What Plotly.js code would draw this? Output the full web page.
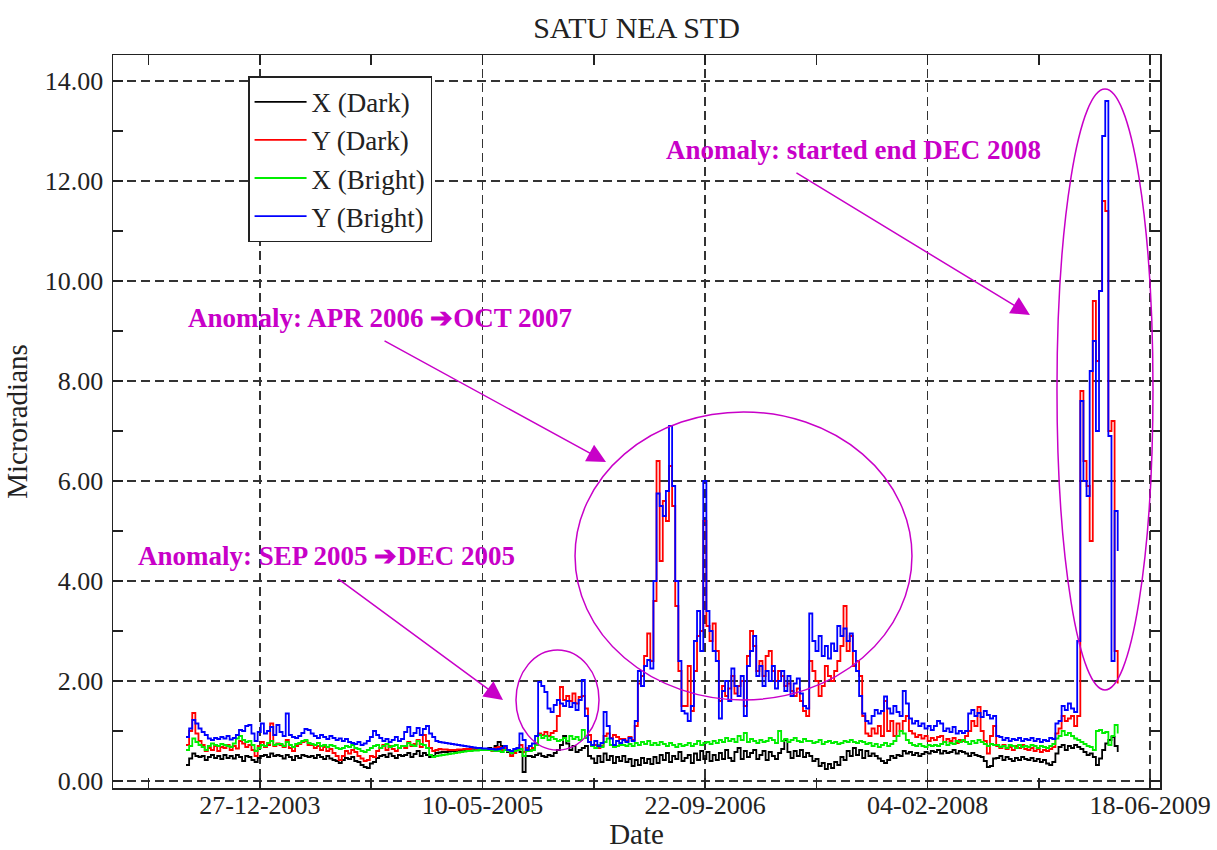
<!DOCTYPE html>
<html>
<head>
<meta charset="utf-8">
<script src="https://cdn.plot.ly/plotly-3.0.1.min.js"></script>
<style>html,body{margin:0;padding:0;background:#fff;}#chart{width:1217px;height:850px;}</style>
</head>
<body>
<div id="chart"></div>
<script>
// Weekly samples starting 2003-07-14
const startDate = '2003-07-14';
const stepDays = 7;

const xDark = [
0.32,0.45,0.55,0.5,0.48,0.5,0.42,0.48,0.52,0.46,
0.5,0.44,0.52,0.46,0.5,0.45,0.52,0.48,0.4,0.5,
0.48,0.42,0.38,0.46,0.5,0.52,0.48,0.55,0.5,0.52,
0.5,0.45,0.52,0.48,0.42,0.5,0.46,0.52,0.5,0.48,
0.5,0.46,0.52,0.48,0.44,0.5,0.45,0.42,0.4,0.36,
0.42,0.46,0.44,0.48,0.4,0.38,0.32,0.28,0.26,0.35,
0.38,0.46,0.5,0.52,0.48,0.55,0.5,0.46,0.52,0.5,
0.52,0.56,0.48,0.54,0.6,0.5,0.56,0.52,0.48,0.5,
0.56,0.57,0.58,0.58,0.59,0.6,0.6,0.61,0.61,0.62,
0.62,0.62,0.63,0.63,0.63,0.62,0.64,0.66,0.62,0.7,
0.78,0.7,0.62,0.58,0.55,0.6,0.62,0.58,0.18,0.5,
0.5,0.48,0.52,0.55,0.5,0.48,0.52,0.5,0.56,0.62,
0.72,0.9,0.75,0.62,0.7,0.58,0.62,0.66,0.7,0.5,
0.45,0.36,0.5,0.38,0.55,0.42,0.5,0.36,0.48,0.4,
0.5,0.38,0.44,0.3,0.42,0.32,0.46,0.36,0.44,0.34,
0.48,0.36,0.52,0.42,0.56,0.38,0.5,0.44,0.58,0.4,
0.46,0.52,0.36,0.55,0.42,0.6,0.44,0.58,0.4,0.52,
0.42,0.56,0.44,0.62,0.46,0.4,0.58,0.66,0.44,0.6,
0.48,0.56,0.62,0.44,0.52,0.6,0.42,0.58,0.5,0.44,
0.56,0.64,0.82,0.58,0.46,0.6,0.5,0.62,0.48,0.56,
0.5,0.4,0.44,0.3,0.36,0.24,0.34,0.26,0.38,0.32,
0.48,0.42,0.6,0.5,0.66,0.52,0.62,0.46,0.6,0.5,
0.55,0.5,0.45,0.4,0.36,0.42,0.5,0.46,0.52,0.5,
0.6,0.55,0.58,0.52,0.56,0.5,0.54,0.58,0.55,0.6,
0.58,0.62,0.55,0.6,0.56,0.58,0.62,0.55,0.6,0.58,
0.55,0.5,0.56,0.52,0.5,0.48,0.4,0.28,0.3,0.45,
0.46,0.5,0.42,0.48,0.44,0.4,0.46,0.42,0.48,0.44,
0.42,0.46,0.4,0.44,0.38,0.42,0.35,0.32,0.38,0.55,
0.68,0.72,0.62,0.7,0.66,0.72,0.68,0.64,0.58,0.52,
0.55,0.48,0.32,0.45,0.62,0.75,0.82,0.88,0.7,0.58
];

const yDark = [
0.72,1.0,1.36,0.95,0.8,0.72,0.6,0.66,0.62,0.7,
0.6,0.68,0.66,0.72,0.62,0.7,0.65,0.8,0.75,0.68,
0.72,0.62,0.5,0.7,0.78,0.68,0.72,1.15,0.7,0.75,
0.72,0.68,0.82,0.66,0.6,0.7,0.74,0.78,0.8,0.72,
0.72,0.66,0.7,0.62,0.68,0.6,0.64,0.56,0.5,0.42,
0.5,0.6,0.55,0.62,0.58,0.5,0.45,0.4,0.42,0.5,
0.48,0.6,0.66,0.72,0.62,0.7,0.64,0.6,0.66,0.7,
0.66,0.78,0.7,0.74,0.82,0.68,0.92,0.8,0.66,0.6,
0.62,0.64,0.63,0.63,0.62,0.62,0.62,0.63,0.63,0.64,
0.64,0.64,0.65,0.64,0.64,0.63,0.64,0.62,0.6,0.66,
0.68,0.62,0.66,0.6,0.5,0.56,0.62,0.72,0.58,0.66,
0.62,0.66,0.75,0.95,0.92,0.98,0.9,0.96,1.0,1.3,
1.88,1.62,1.7,1.6,1.75,1.55,1.68,1.7,1.45,0.92,
0.7,0.72,0.66,0.7,0.9,0.95,0.86,0.92,0.88,0.84,
0.84,0.8,0.88,0.82,1.1,1.95,2.1,2.5,2.95,2.4,
3.6,6.4,4.4,5.6,5.2,6.3,5.5,3.5,2.2,1.5,
1.5,2.3,1.4,2.2,2.9,3.0,5.2,3.1,2.8,3.15,
2.6,1.6,1.9,1.7,1.85,2.1,1.75,1.9,2.0,1.5,
2.5,3.0,2.7,2.2,2.4,2.1,2.5,2.6,2.2,2.0,
2.2,2.1,1.9,1.95,1.8,1.7,1.85,1.6,1.4,1.3,
2.4,2.2,2.0,1.7,1.9,2.3,2.1,2.0,2.2,2.4,
2.7,3.5,2.6,2.9,2.3,2.4,2.1,1.3,0.95,0.9,
1.05,0.95,1.1,0.9,1.6,1.0,1.2,0.9,1.15,1.0,
1.2,1.3,1.0,0.95,0.88,0.92,0.85,0.9,0.8,0.86,
0.82,0.88,0.9,0.78,0.84,0.8,0.86,0.76,0.82,0.8,
0.9,1.0,1.2,1.1,1.48,1.0,0.8,0.55,0.9,1.1,
0.7,0.66,0.72,0.64,0.68,0.62,0.7,0.66,0.72,0.64,
0.62,0.66,0.6,0.64,0.58,0.62,0.6,0.64,0.68,0.95,
1.05,1.3,1.2,1.25,1.3,1.1,1.3,7.8,6.4,5.9,
4.8,9.6,8.4,9.8,11.6,11.4,7.0,7.2,2.6,1.95
];

const xBright = [
0.62,0.7,0.85,0.78,0.72,0.68,0.62,0.7,0.75,0.72,
0.7,0.74,0.72,0.7,0.68,0.75,0.85,0.9,0.82,0.78,
0.8,0.72,0.6,0.66,0.72,0.7,0.76,0.8,0.72,0.74,
0.74,0.7,0.78,0.72,0.68,0.74,0.76,0.8,0.82,0.76,
0.74,0.72,0.76,0.7,0.72,0.68,0.72,0.7,0.66,0.64,
0.66,0.7,0.68,0.72,0.66,0.64,0.6,0.58,0.62,0.66,
0.7,0.72,0.66,0.7,0.74,0.68,0.7,0.72,0.66,0.7,
0.7,0.76,0.72,0.7,0.8,0.74,0.72,0.66,0.52,0.48,
0.5,0.51,0.52,0.53,0.54,0.55,0.56,0.57,0.58,0.59,
0.6,0.6,0.61,0.61,0.62,0.62,0.62,0.62,0.61,0.6,
0.6,0.58,0.62,0.6,0.56,0.6,0.62,0.64,0.5,0.6,
0.6,0.62,0.72,0.92,0.86,0.9,0.82,0.88,0.84,0.8,
0.82,0.86,0.8,0.9,0.84,0.88,0.82,1.02,0.86,0.78,
0.7,0.66,0.72,0.68,0.78,0.85,0.72,0.68,0.7,0.72,
0.72,0.7,0.74,0.7,0.76,0.72,0.78,0.74,0.8,0.72,
0.76,0.72,0.78,0.74,0.7,0.76,0.72,0.68,0.74,0.7,
0.72,0.76,0.7,0.74,0.8,0.72,0.76,0.78,0.74,0.8,
0.76,0.82,0.78,0.86,0.8,0.84,0.78,0.9,0.82,0.96,
0.78,0.84,0.8,0.76,0.82,0.78,0.8,0.86,0.82,0.76,
1.0,0.8,0.84,0.78,0.82,0.86,0.8,0.78,0.84,0.8,
0.8,0.76,0.78,0.82,0.74,0.78,0.8,0.76,0.78,0.74,
0.76,0.8,0.78,0.82,0.78,0.76,0.8,0.78,0.74,0.76,
0.7,0.74,0.68,0.72,0.76,0.7,0.74,0.8,0.9,1.0,
0.95,0.82,0.76,0.72,0.7,0.74,0.7,0.68,0.72,0.7,
0.72,0.7,0.74,0.78,0.72,0.76,0.74,0.8,0.78,0.82,
0.78,0.74,0.8,0.76,0.82,0.78,0.74,0.7,0.74,0.72,
0.72,0.68,0.7,0.66,0.72,0.7,0.66,0.72,0.68,0.7,
0.68,0.72,0.7,0.66,0.7,0.68,0.66,0.7,0.74,0.85,
0.9,1.0,0.92,0.96,0.9,0.85,0.82,0.78,0.74,0.7,
0.68,0.62,1.0,1.02,0.96,0.98,0.72,0.9,1.12,0.95
];

const yBright = [
0.88,1.05,1.22,1.15,1.05,0.98,0.92,0.85,0.82,0.86,
0.84,0.88,0.85,0.9,0.83,0.86,0.92,1.02,1.0,1.1,
1.12,0.95,0.8,0.98,1.15,0.95,1.0,1.08,0.92,1.12,
0.98,0.9,1.35,0.92,0.88,0.86,0.9,0.96,1.04,1.02,
0.95,0.9,0.86,0.92,0.88,0.84,0.9,0.86,0.82,0.85,
0.8,0.84,0.78,0.76,0.74,0.78,0.72,0.75,0.8,0.88,
1.0,0.92,0.86,0.8,0.84,0.78,0.82,0.88,0.8,0.84,
0.98,1.08,0.9,0.96,1.06,0.92,1.04,1.1,0.95,0.88,
0.8,0.78,0.77,0.76,0.75,0.74,0.73,0.72,0.71,0.7,
0.69,0.68,0.67,0.66,0.66,0.65,0.65,0.64,0.64,0.63,
0.64,0.66,0.7,0.62,0.6,0.64,0.66,0.95,0.82,0.62,
0.7,0.75,0.9,1.98,1.9,1.78,1.45,1.38,1.52,1.62,
1.55,1.5,1.6,1.48,1.56,1.42,1.62,2.02,1.3,0.78,
0.72,0.8,0.7,0.76,1.38,1.1,0.85,0.72,0.8,0.76,
0.82,0.78,0.86,0.8,1.2,2.2,1.9,2.3,2.42,2.25,
4.0,5.75,5.5,5.3,5.8,7.1,5.9,4.0,2.4,1.4,
1.35,1.2,1.5,2.8,3.4,2.6,6.0,3.4,3.0,2.6,
2.4,1.25,1.8,2.0,1.6,2.25,1.9,1.7,2.1,1.3,
2.3,2.6,2.9,2.1,2.3,1.9,2.2,2.0,2.3,1.85,
2.0,2.2,1.8,2.1,1.7,1.95,2.05,1.75,1.5,1.45,
3.35,2.8,2.6,2.9,2.5,2.7,2.45,2.75,2.6,3.1,
2.9,3.05,2.8,2.95,2.6,2.2,1.7,1.35,1.2,1.15,
1.3,1.42,1.35,1.4,1.69,1.45,1.35,1.5,1.38,1.3,
1.8,1.55,1.25,1.15,1.2,1.1,1.15,1.05,1.1,1.02,
1.1,1.2,1.15,1.0,1.05,0.98,1.08,0.95,1.0,0.96,
1.0,1.35,1.42,1.3,1.36,1.28,1.4,1.32,1.25,1.3,
0.9,0.88,0.82,0.86,0.8,0.84,0.82,0.86,0.8,0.84,
0.82,0.86,0.8,0.84,0.78,0.82,0.8,0.86,0.84,1.15,
1.2,1.5,1.42,1.55,1.45,1.38,2.8,7.6,6.0,5.7,
8.2,8.8,7.0,9.8,12.9,13.6,6.9,2.4,5.4,4.6
];

const seriesNames = ['X (Dark)', 'Y (Dark)', 'X (Bright)', 'Y (Bright)'];
const seriesColors = ['#000000', '#ff0000', '#00ee00', '#0000ff'];

const dateTickVals = ['2003-12-27', '2005-05-10', '2006-09-22', '2008-02-04', '2009-06-18'];
const dateTickText = ['27-12-2003', '10-05-2005', '22-09-2006', '04-02-2008', '18-06-2009'];
const dateMinorVals = ['2003-04-21', '2004-09-02', '2006-01-15', '2007-05-30', '2008-10-11'];

const anomalyTexts = [
  'Anomaly: started end DEC 2008',
  'Anomaly: APR 2006 \u2794OCT 2007',
  'Anomaly: SEP 2005 \u2794DEC 2005'
];

// build the date grid
const t0 = Date.parse(startDate + 'T00:00:00Z');
const dates = xDark.map((_, i) => new Date(t0 + i * stepDays * 86400000).toISOString().slice(0, 10));

const values = [xDark, yDark, xBright, yBright];
const traces = values.map((v, k) => ({
  type: 'scatter', mode: 'lines', x: dates, y: v,
  name: seriesNames[k],
  line: {color: seriesColors[k], width: 1.8, shape: 'hv'},
  hoverinfo: 'skip'
}));

const MAG = '#c800c8';
const serif = 'Liberation Serif, Times New Roman, DejaVu Serif, serif';

const layout = {
  width: 1217, height: 850,
  margin: {l: 113, r: 57, t: 55, b: 62},
  paper_bgcolor: '#ffffff', plot_bgcolor: '#ffffff',
  font: {family: serif, color: '#222222', size: 26},
  title: {text: 'SATU NEA STD', font: {family: serif, size: 30, color: '#222222'},
          x: 0.5, xref: 'paper', xanchor: 'center', y: 0.968, yref: 'container', yanchor: 'middle'},
  showlegend: true,
  legend: {x: 0.129, y: 0.971, xanchor: 'left', yanchor: 'top', bgcolor: '#ffffff',
           bordercolor: '#222222', borderwidth: 1.5, itemwidth: 52,
           font: {family: serif, size: 27, color: '#222222'}},
  xaxis: {
    type: 'date', range: ['2003-01-31', '2009-07-10'],
    tickmode: 'array', tickvals: dateTickVals, ticktext: dateTickText,
    ticks: 'inside', ticklen: 10, tickwidth: 1.5, tickcolor: '#222222',
    showline: true, linecolor: '#222222', linewidth: 1.5, mirror: 'ticks',
    showgrid: true, gridcolor: '#333333', gridwidth: 1.5, griddash: '9px,5px',
    zeroline: false, tickfont: {size: 26}, ticklabelstandoff: -7,
    minor: {tickmode: 'array', tickvals: dateMinorVals, ticks: 'inside', ticklen: 10,
            tickwidth: 1.5, tickcolor: '#222222', showgrid: false},
    title: {text: 'Date', font: {size: 29}, standoff: 19}
  },
  yaxis: {
    range: [-0.14, 14.52], tickmode: 'linear', tick0: 0, dtick: 2, tickformat: '.2f',
    ticks: 'inside', ticklen: 10, tickwidth: 1.5, tickcolor: '#222222',
    showline: true, linecolor: '#222222', linewidth: 1.5, mirror: 'ticks',
    showgrid: true, gridcolor: '#333333', gridwidth: 1.5, griddash: '9px,5px',
    zeroline: false, tickfont: {size: 26}, ticklabelstandoff: 3,
    minor: {tickmode: 'linear', tick0: 0, dtick: 1, ticks: 'inside', ticklen: 10,
            tickwidth: 1.5, tickcolor: '#222222', showgrid: false},
    title: {text: 'Microradians', font: {size: 29}, standoff: 8}
  },
  shapes: [
    {type: 'circle', xref: 'paper', yref: 'paper', x0: 0.3849, x1: 0.4642, y0: 0.0518, y1: 0.1883,
     line: {color: MAG, width: 1.5}},
    {type: 'circle', xref: 'paper', yref: 'paper', x0: 0.4413, x1: 0.7631, y0: 0.1201, y1: 0.5130,
     line: {color: MAG, width: 1.5}},
    {type: 'circle', xref: 'paper', yref: 'paper', x0: 0.9016, x1: 0.9933, y0: 0.1337, y1: 0.9536,
     line: {color: MAG, width: 1.5}}
  ],
  annotations: [
    {xref: 'paper', yref: 'paper', x: 0.5262, y: 0.8704, xanchor: 'left', yanchor: 'middle',
     text: '<b>' + anomalyTexts[0] + '</b>', showarrow: false, font: {family: serif, size: 27, color: MAG}},
    {xref: 'paper', yref: 'paper', x: 0.0696, y: 0.6412, xanchor: 'left', yanchor: 'middle',
     text: '<b>' + anomalyTexts[1] + '</b>', showarrow: false, font: {family: serif, size: 27, color: MAG}},
    {xref: 'paper', yref: 'paper', x: 0.0219, y: 0.3165, xanchor: 'left', yanchor: 'middle',
     text: '<b>' + anomalyTexts[2] + '</b>', showarrow: false, font: {family: serif, size: 27, color: MAG}},
    {xref: 'paper', yref: 'paper', x: 0.8758, y: 0.6453, text: '', showarrow: true, ax: -235, ay: -143,
     arrowhead: 2, arrowsize: 2.5, arrowwidth: 1.5, arrowcolor: MAG},
    {xref: 'paper', yref: 'paper', x: 0.4709, y: 0.4447, text: '', showarrow: true, ax: -223, ay: -122,
     arrowhead: 2, arrowsize: 2.5, arrowwidth: 1.5, arrowcolor: MAG},
    {xref: 'paper', yref: 'paper', x: 0.3725, y: 0.1201, text: '', showarrow: true, ax: -166, ay: -122,
     arrowhead: 2, arrowsize: 2.5, arrowwidth: 1.5, arrowcolor: MAG}
  ],
  hovermode: false
};

Plotly.newPlot('chart', traces, layout, {displayModeBar: false, staticPlot: true});
</script>
</body>
</html>
